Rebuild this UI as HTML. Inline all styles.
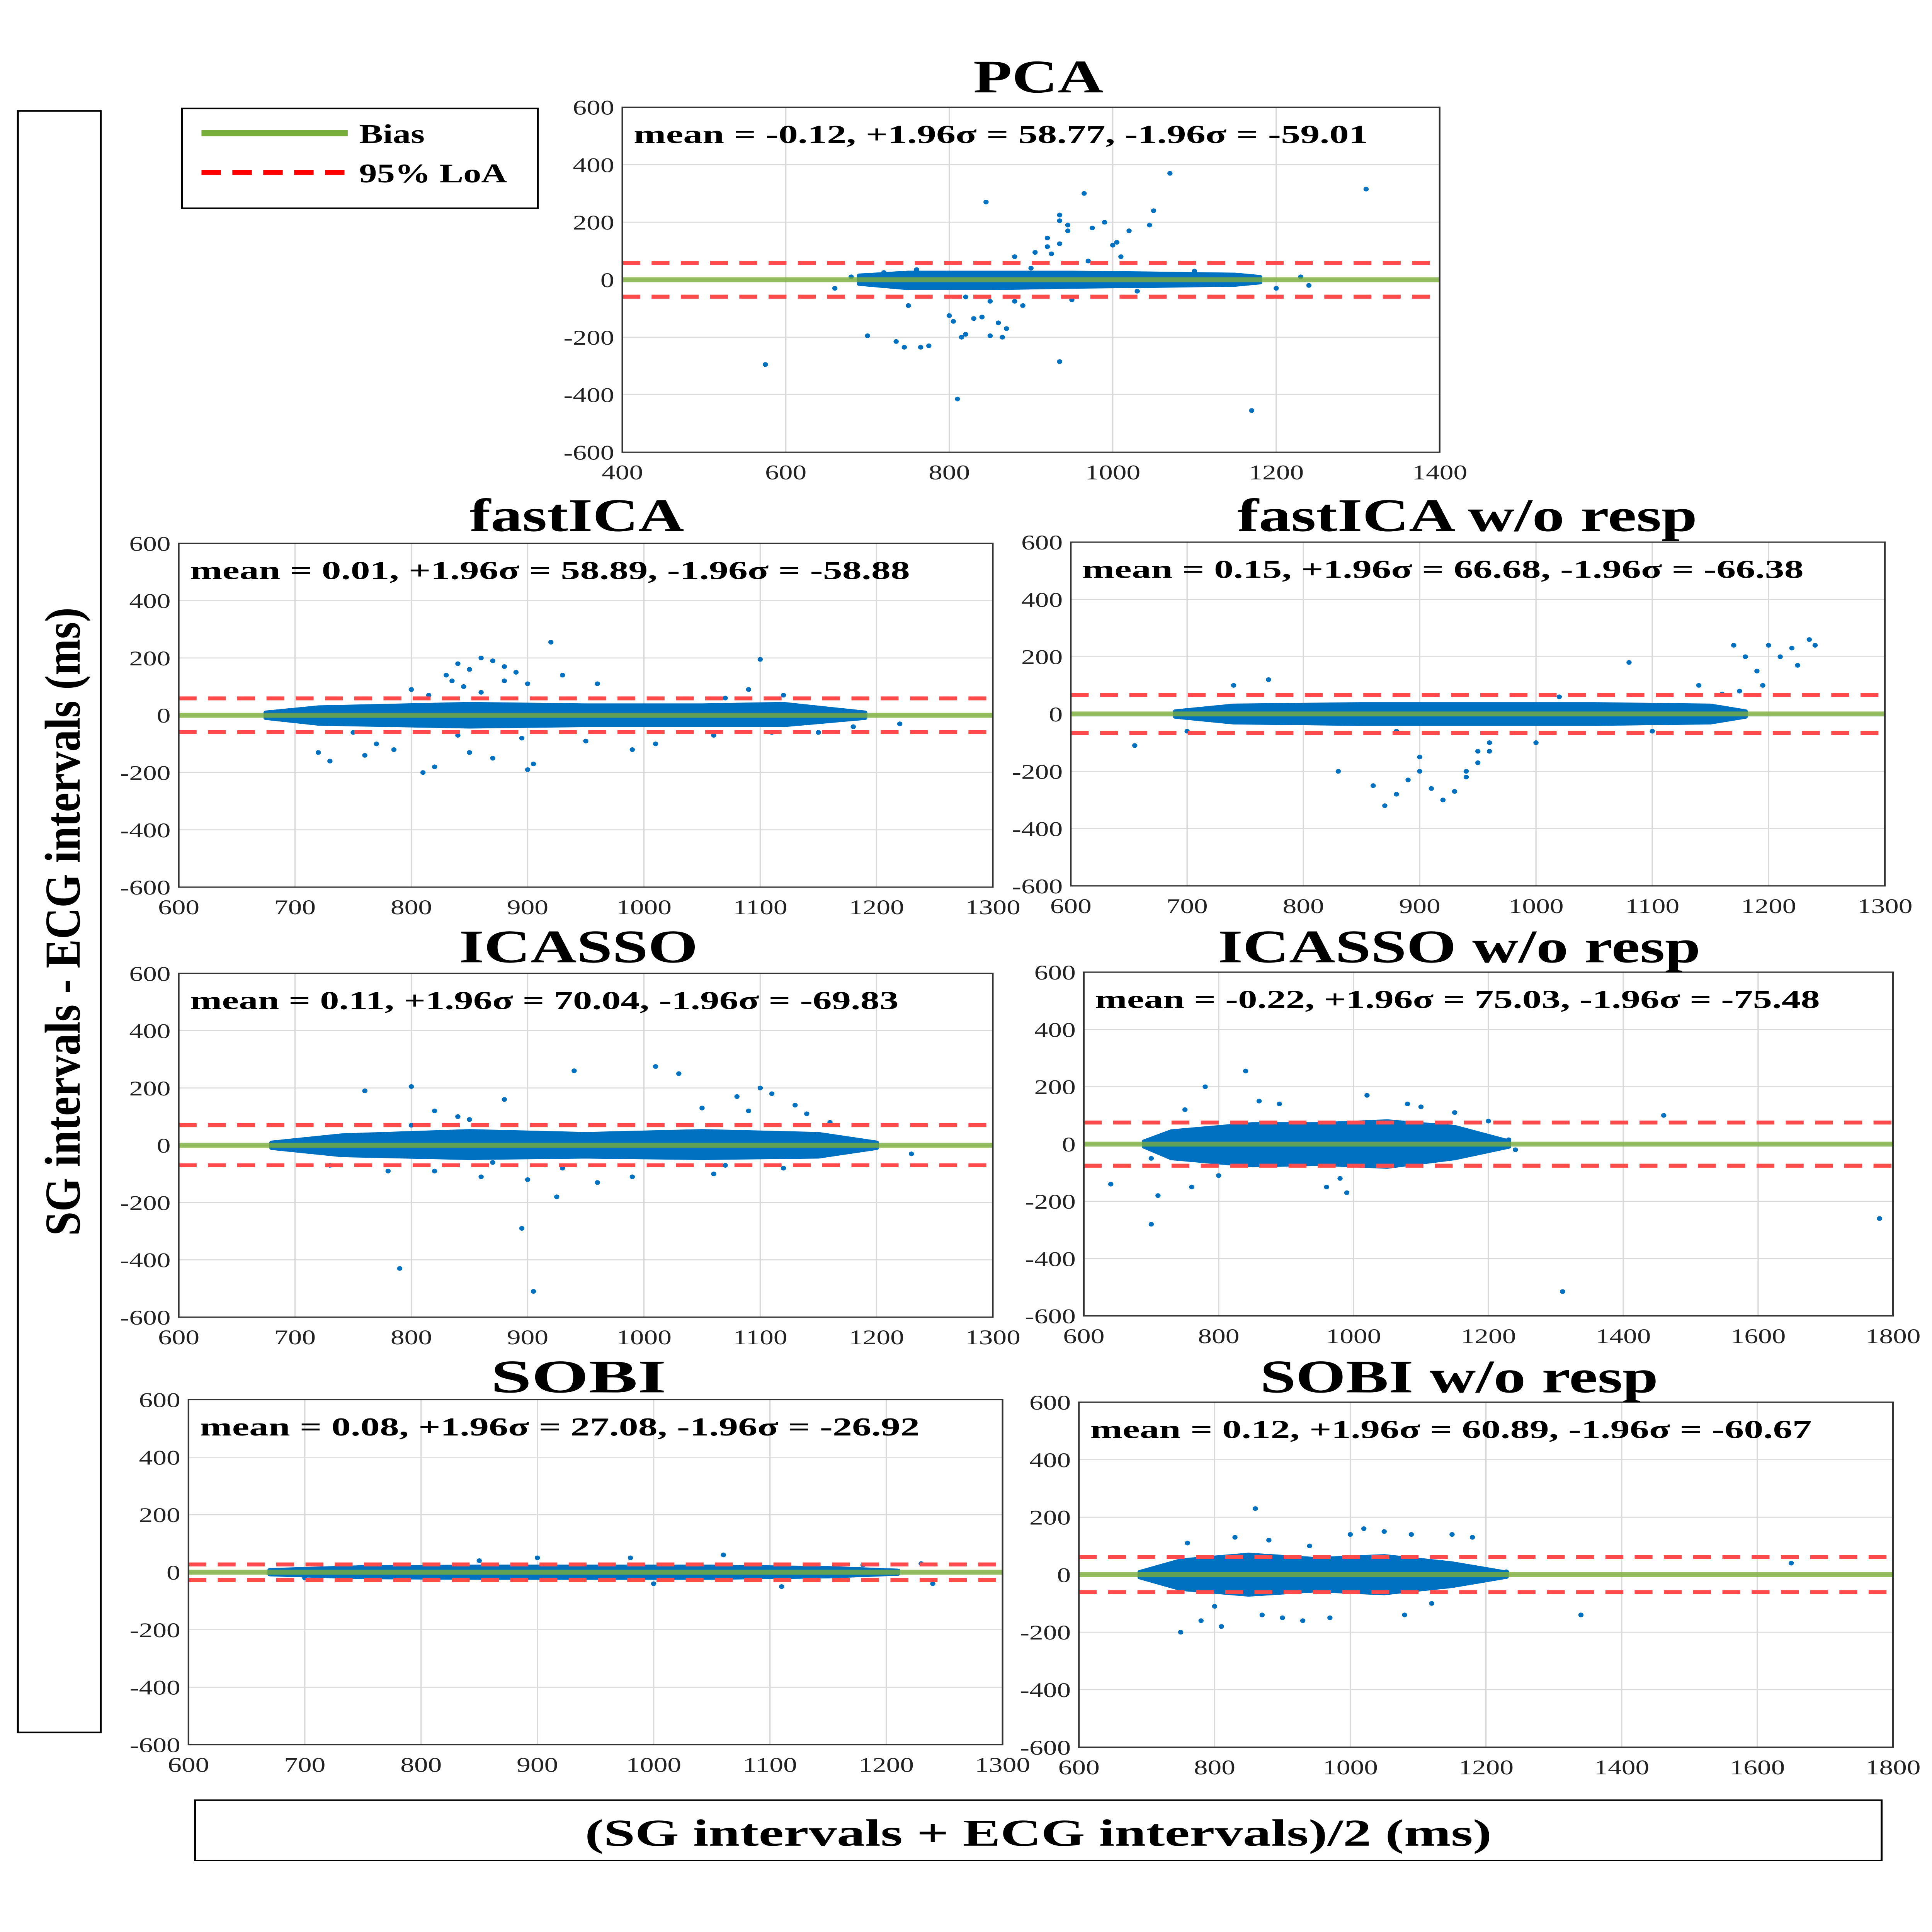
<!DOCTYPE html>
<html><head><meta charset="utf-8">
<style>
html,body{margin:0;padding:0;background:#fff;width:100%;height:100%;overflow:hidden;}
#chart{position:fixed;left:0;top:0;width:100vw;height:100vh;display:block;}
text{font-family:"Liberation Serif",serif;}
</style></head>
<body>
<svg id="chart" xmlns="http://www.w3.org/2000/svg" viewBox="0 0 1189 1568" preserveAspectRatio="none">
<rect x="0" y="0" width="1189" height="1568" fill="#fff"/>
<g>
<rect x="112" y="88" width="219" height="81" fill="#fff" stroke="#000" stroke-width="1.2"/>
<line x1="124" y1="108" x2="214" y2="108" stroke="#7AAE3A" stroke-width="5"/>
<text x="221" y="116" font-size="22" font-weight="bold">Bias</text>
<line x1="124" y1="140" x2="214" y2="140" stroke="#FF0000" stroke-width="4" stroke-dasharray="12,7"/>
<text x="221" y="148" font-size="22" font-weight="bold">95% LoA</text>
</g>
<g>
<rect x="11" y="90" width="51" height="1316" fill="#fff" stroke="#000" stroke-width="1.2"/>
<text x="0" y="0" font-size="31" font-weight="bold" text-anchor="middle" transform="translate(49,748) rotate(-90)" textLength="510" lengthAdjust="spacingAndGlyphs">SG intervals -  ECG intervals (ms)</text>
</g>
<g>
<rect x="120" y="1461" width="1038" height="49" fill="#fff" stroke="#000" stroke-width="1.2"/>
<text x="639" y="1498" font-size="31" font-weight="bold" text-anchor="middle" textLength="558" lengthAdjust="spacingAndGlyphs">(SG intervals + ECG intervals)/2 (ms)</text>
</g>
<g id="panels"></g>
</svg>
<script>
// ---- data ----
const titles = ["PCA","fastICA","fastICA w/o resp","ICASSO","ICASSO w/o resp","SOBI","SOBI w/o resp"];
const means = [-0.12, 0.01, 0.15, 0.11, -0.22, 0.08, 0.12];
const upperLoA = [58.77, 58.89, 66.68, 70.04, 75.03, 27.08, 60.89];
const lowerLoA = [-59.01, -58.88, -66.38, -69.83, -75.48, -26.92, -60.67];
const statLabels = [
 "mean = -0.12, +1.96σ =  58.77, -1.96σ = -59.01",
 "mean = 0.01, +1.96σ =  58.89, -1.96σ = -58.88",
 "mean = 0.15, +1.96σ =  66.68, -1.96σ = -66.38",
 "mean = 0.11, +1.96σ = 70.04, -1.96σ = -69.83",
 "mean = -0.22, +1.96σ = 75.03, -1.96σ = -75.48",
 "mean = 0.08, +1.96σ =  27.08, -1.96σ = -26.92",
 "mean = 0.12, +1.96σ =  60.89, -1.96σ = -60.67"];
const xDomains = [[400,1400],[600,1300],[600,1300],[600,1300],[600,1800],[600,1300],[600,1800]];
const xTickSets = [[400,600,800,1000,1200,1400],[600,700,800,900,1000,1100,1200,1300],[600,700,800,900,1000,1100,1200,1300],[600,700,800,900,1000,1100,1200,1300],[600,800,1000,1200,1400,1600,1800],[600,700,800,900,1000,1100,1200,1300],[600,800,1000,1200,1400,1600,1800]];
const yTicks = [-600,-400,-200,0,200,400,600];
// dense core cluster: [x, low, high]
const band0 = [[690,-15,15],[750,-30,25],[850,-30,25],[950,-25,25],[1050,-22,22],[1150,-18,18],[1180,-10,10]];
const band1 = [[675,-10,10],[720,-30,28],[850,-40,40],[950,-35,35],[1050,-35,35],[1120,-35,40],[1190,-10,10]];
const band2 = [[690,-10,10],[740,-30,30],[850,-35,35],[950,-35,35],[1050,-35,35],[1150,-30,30],[1180,-10,10]];
const band3 = [[680,-10,10],[740,-35,35],[850,-45,50],[950,-40,40],[1050,-45,50],[1150,-40,40],[1200,-10,10]];
const band4 = [[690,-10,10],[730,-50,45],[850,-75,70],[950,-70,70],[1050,-80,80],[1150,-50,60],[1230,-10,10]];
const band5 = [[670,-8,8],[750,-18,18],[850,-20,20],[950,-20,20],[1050,-20,20],[1150,-15,15],[1210,-6,6]];
const band6 = [[690,-10,10],[750,-50,50],[850,-70,70],[950,-55,55],[1050,-65,65],[1150,-40,40],[1230,-8,8]];
const bands = [band0,band1,band2,band3,band4,band5,band6];
// individual scattered points [x, y]
const pts0 = [[575,-295],[700,-195],[735,-215],[745,-235],[765,-235],[775,-230],[810,-415],[845,270],[820,-190],[815,-200],[850,-195],[870,-170],[865,-200],[860,-150],[840,-130],[830,-135],[800,-125],[805,-145],[880,-75],[890,-90],[920,145],[935,225],[935,205],[945,190],[945,170],[965,300],[975,180],[990,200],[1005,130],[1020,170],[1045,190],[1050,240],[1070,370],[1170,-455],[1310,315],[935,-285],[970,65],[905,95],[880,80],[920,115],[935,125],[925,90],[1010,80],[1000,120],[750,-90],[820,-60],[850,-75],[950,-70],[1030,-40],[1200,-30],[1230,10],[1240,-20],[660,-30],[680,10],[720,25],[760,35],[900,40],[1100,30]];
const pts1 = [[720,-130],[730,-160],[760,-140],[770,-100],[785,-120],[810,-200],[820,-180],[830,140],[840,180],[850,160],[860,200],[870,190],[880,170],[890,150],[900,-190],[905,-170],[920,255],[870,-150],[850,-130],[835,120],[845,100],[880,120],[900,110],[930,140],[960,110],[990,-120],[1010,-100],[1060,-70],[1090,90],[1100,195],[1120,70],[1150,-60],[1180,-40],[1220,-30],[750,-60],[800,90],[950,-90],[815,70],[860,80],[895,-80],[840,-70],[1070,60],[1110,-60]];
const pts2 = [[655,-110],[700,-60],[740,100],[770,120],[830,-200],[860,-250],[870,-320],[880,-280],[890,-230],[900,-200],[910,-260],[920,-300],[930,-270],[940,-220],[950,-170],[960,-130],[960,-100],[1080,180],[1140,100],[1175,80],[1190,150],[1200,240],[1210,200],[1220,230],[1225,170],[1235,260],[1240,240],[1180,200],[1170,240],[1195,100],[1160,70],[1000,-100],[950,-130],[900,-150],[940,-200],[880,-60],[1020,60],[1100,-60]];
const pts3 = [[760,190],[790,-430],[800,205],[820,120],[840,100],[860,-110],[880,160],[895,-290],[905,-510],[925,-180],[940,260],[960,-130],[1010,275],[1030,250],[1050,130],[1080,170],[1100,200],[1110,180],[1130,140],[1140,110],[780,-90],[850,90],[900,-120],[990,-110],[1060,-100],[1120,-80],[1160,80],[1230,-30],[730,-70],[870,-60],[820,-90],[1090,120],[1070,-70],[800,70],[930,-80]];
const pts4 = [[640,-140],[700,-280],[710,-180],[760,-150],[780,200],[800,-110],[840,255],[860,150],[890,140],[960,-150],[980,-120],[1020,170],[1100,130],[1150,110],[1200,80],[1310,-515],[1460,100],[1780,-260],[750,120],[700,-50],[990,-170],[1080,140],[1160,-40],[1230,15],[1240,-20]];
const pts5 = [[1230,30],[1240,-40],[900,50],[980,50],[1060,60],[1110,-50],[700,-20],[850,40],[1000,-40],[1180,25]];
const pts6 = [[750,-200],[780,-160],[810,-180],[860,230],[870,-140],[900,-150],[930,-160],[970,-150],[1000,140],[1020,160],[1050,150],[1090,140],[1150,140],[1180,130],[1230,10],[1340,-140],[1650,40],[880,120],[830,130],[1080,-140],[760,110],[940,100],[1120,-100],[800,-110]];
const points = [pts0,pts1,pts2,pts3,pts4,pts5,pts6];
// ---- layout ----
const boxes = [[383,886,87,367],[110,611,441,720],[659,1160,440,719],[110,611,790,1069],[667,1165,789,1068],[116,617,1136,1416],[664,1165,1138,1418]];
const titleCenters = [[639,75],[355,431],[903,431],[356,781],[898,781],[356,1130],[898,1130]];
const titleWidths = [80,132,283,147,297,108,245];
const statWidths = [452,443,444,436,446,443,444];
const NS = "http://www.w3.org/2000/svg";
const root = document.getElementById("panels");
function mk(tag, attrs, parent){const e=document.createElementNS(NS,tag);for(const k in attrs)e.setAttribute(k,attrs[k]);parent.appendChild(e);return e;}
for(let i=0;i<7;i++){
  const [L,R,T,B]=boxes[i];const dom=xDomains[i];
  const sx=v=>L+(v-dom[0])/(dom[1]-dom[0])*(R-L);
  const sy=v=>B-(v+600)/1200*(B-T);
  const g=mk("g",{},root);
  
  
  mk("rect",{x:L,y:T,width:R-L,height:B-T,fill:"#fff"},g);
  for(const t of xTickSets[i]){mk("line",{x1:sx(t),x2:sx(t),y1:T,y2:B,stroke:"#d9d9d9","stroke-width":0.8},g);}
  for(const t of yTicks){mk("line",{x1:L,x2:R,y1:sy(t),y2:sy(t),stroke:"#d9d9d9","stroke-width":0.8},g);}
  const bd=bands[i];let d="M"+sx(bd[0][0])+","+sy(bd[0][2]);
  for(const p of bd)d+=" L"+sx(p[0])+","+sy(p[2]);
  for(let k=bd.length-1;k>=0;k--)d+=" L"+sx(bd[k][0])+","+sy(bd[k][1]);
  d+="Z";
  const band=mk("path",{d:d,fill:"#0070C0",stroke:"#0070C0","stroke-width":3,"stroke-linejoin":"round"},g);
  
  
  for(const p of points[i]){
    const c=mk("ellipse",{cx:sx(p[0]),cy:sy(p[1]),rx:1.6,ry:1.9,fill:"#0070C0"},g);
    
    
  }
  const up=mk("line",{x1:L,x2:R,y1:sy(upperLoA[i]),y2:sy(upperLoA[i]),stroke:"#FF4B4B","stroke-width":3.2,"stroke-dasharray":"11,7"},g);
  
  
  const lo=mk("line",{x1:L,x2:R,y1:sy(lowerLoA[i]),y2:sy(lowerLoA[i]),stroke:"#FF4B4B","stroke-width":3.2,"stroke-dasharray":"11,7"},g);
  
  
  const bl=mk("line",{x1:L,x2:R,y1:sy(means[i]),y2:sy(means[i]),stroke:"#7AAE3A","stroke-opacity":0.8,"stroke-width":4},g);
  
  
  mk("rect",{x:L,y:T,width:R-L,height:B-T,fill:"none",stroke:"#333","stroke-width":1},g);
  for(const t of yTicks){const tx=mk("text",{x:L-5,y:sy(t)+6,"font-size":17,"text-anchor":"end",fill:"#222"},g);tx.textContent=String(t);
    
    }
  for(const t of xTickSets[i]){const tx=mk("text",{x:sx(t),y:B+22,"font-size":17,"text-anchor":"middle",fill:"#222"},g);tx.textContent=String(t);
    
    }
  const st=mk("text",{x:L+7,y:T+29,"font-size":21,"font-weight":"bold",textLength:statWidths[i],lengthAdjust:"spacingAndGlyphs"},g);
  st.textContent=statLabels[i];
  
  
  const tt=mk("text",{x:titleCenters[i][0],y:titleCenters[i][1],"font-size":38,"font-weight":"bold","text-anchor":"middle",textLength:titleWidths[i],lengthAdjust:"spacingAndGlyphs"},g);
  tt.textContent=titles[i];
  
  
}
</script>
</body></html>
